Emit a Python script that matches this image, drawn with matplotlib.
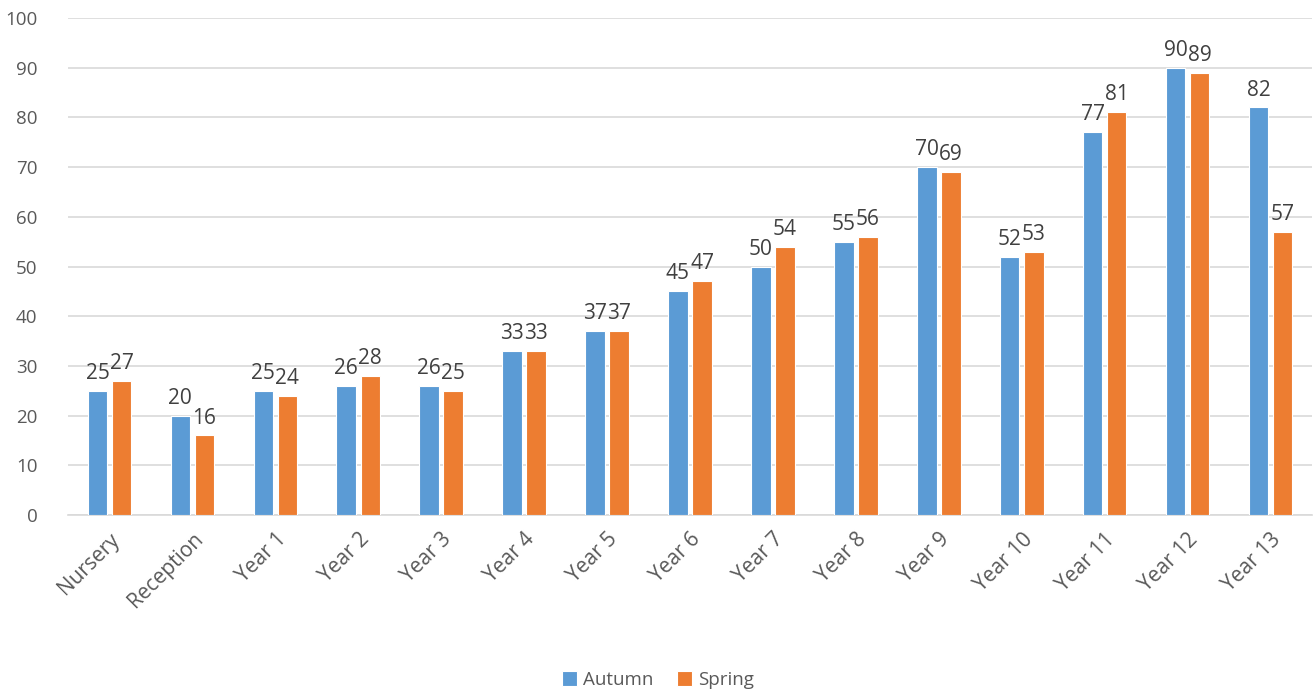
import numpy as np
import matplotlib.pyplot as plt

# ── Data ──────────────────────────────────────────
categories = ["Nursery", "Reception", "Year 1", "Year 2", "Year 3", "Year 4",
              "Year 5", "Year 6", "Year 7", "Year 8", "Year 9", "Year 10",
              "Year 11", "Year 12", "Year 13"]
autumn = [25, 20, 25, 26, 26, 33, 37, 45, 50, 55, 70, 52, 77, 90, 82]
spring = [27, 16, 24, 28, 25, 33, 37, 47, 54, 56, 69, 53, 81, 89, 57]

BLUE   = "#5B9BD5"
ORANGE = "#ED7D31"
TXT    = "#595959"
GRID   = "#D9D9D9"

plt.rcParams['font.family'] = ['Open Sans', 'DejaVu Sans']

fig = plt.figure(figsize=(13.16, 6.97), dpi=100)
ax = fig.add_axes([68 / 1316, 1 - 515 / 697, (1312 - 68) / 1316, (515 - 18) / 697])

x = np.arange(len(categories))
w, off = 0.235, 0.145
b1 = ax.bar(x - off, autumn, w, color=BLUE, edgecolor="white", linewidth=0.8, label="Autumn", zorder=3)
b2 = ax.bar(x + off, spring, w, color=ORANGE, edgecolor="white", linewidth=0.8, label="Spring", zorder=3)
ax.bar_label(b1, padding=5, fontsize=15, color="#404040")
ax.bar_label(b2, padding=5, fontsize=15, color="#404040")

ax.set_xlim(-0.5, len(categories) - 0.5)
ax.set_ylim(0, 100)
ax.set_yticks(range(0, 101, 10))
ax.yaxis.grid(True, color=GRID, linewidth=1.2, zorder=0)
ax.set_axisbelow(True)
for s in ["top", "right", "left"]:
    ax.spines[s].set_visible(False)
ax.spines["bottom"].set_color(GRID)
ax.spines["bottom"].set_linewidth(1.2)
ax.tick_params(length=0, colors=TXT)
ax.tick_params(axis="y", pad=22, labelsize=13.5)
ax.set_xticks(x)
ax.set_xticklabels(categories, rotation=45, ha="right", rotation_mode="anchor")
ax.tick_params(axis="x", pad=10, labelsize=15)

fig.legend(loc="center", bbox_to_anchor=(0.5, 1 - 680 / 697), ncol=2, frameon=False,
           fontsize=13.5, labelcolor=TXT, handlelength=0.8, handleheight=0.8,
           handletextpad=0.3, columnspacing=1.3)

plt.savefig("out.png", dpi=100)
